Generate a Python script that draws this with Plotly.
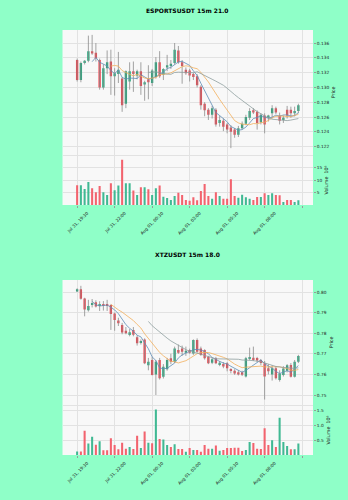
import plotly.graph_objects as go
import pandas as pd

# ---------------- data ----------------
times = pd.date_range("2023-07-31 19:30", periods=60, freq="15min")
tick_idx = [0, 10, 20, 30, 40, 50]
extra_grid_idx = [60]
tick_text = [times[i].strftime("%b %d, %H:%M") for i in tick_idx]

esp_open = [.1337, .1310, .1333, .1336, .1349, .1347, .1337, .1300, .1326, .1335,
            .1315, .1318, .1312, .1278, .1308, .1322, .1316, .1322, .1304, .1311,
            .1306, .1314, .1334, .1317, .1327, .1329, .1333, .1350, .1334, .1324,
            .1323, .1318, .1315, .1301, .1278, .1270, .1263, .1270, .1252, .1255,
            .1250, .1246, .1243, .1236, .1245, .1251, .1259, .1269, .1267, .1253,
            .1262, .1259, .1265, .1272, .1262, .1256, .1270, .1270, .1265, .1268]
esp_high = [.1339, .1335, .1337, .1370, .1371, .1360, .1339, .1331, .1350, .1351,
            .1326, .1348, .1314, .1323, .1334, .1335, .1324, .1334, .1309, .1330,
            .1325, .1341, .1349, .1326, .1344, .1337, .1360, .1356, .1337, .1327,
            .1325, .1320, .1318, .1303, .1280, .1272, .1275, .1272, .1262, .1258,
            .1252, .1249, .1245, .1248, .1254, .1263, .1272, .1272, .1269, .1265,
            .1265, .1263, .1276, .1274, .1266, .1262, .1275, .1274, .1274, .1278]
esp_low = [.1308, .1307, .1331, .1334, .1344, .1335, .1297, .1297, .1318, .1290,
           .1289, .1306, .1267, .1272, .1297, .1294, .1311, .1290, .1282, .1284,
           .1302, .1312, .1313, .1310, .1322, .1325, .1331, .1332, .1305, .1317,
           .1308, .1310, .1300, .1270, .1261, .1256, .1258, .1247, .1247, .1241,
           .1238, .1218, .1232, .1233, .1243, .1249, .1256, .1264, .1243, .1250,
           .1238, .1254, .1258, .1264, .1250, .1252, .1258, .1259, .1261, .1265]
esp_close = [.1310, .1333, .1336, .1349, .1346, .1339, .1300, .1326, .1334, .1315,
             .1319, .1324, .1276, .1322, .1322, .1318, .1322, .1302, .1307, .1307,
             .1323, .1334, .1315, .1325, .1330, .1332, .1351, .1334, .1329, .1319,
             .1316, .1314, .1303, .1276, .1269, .1263, .1272, .1250, .1256, .1247,
             .1243, .1240, .1236, .1245, .1251, .1260, .1268, .1266, .1252, .1263,
             .1250, .1262, .1272, .1266, .1255, .1259, .1262, .1265, .1268, .1276]
esp_volume_1e6 = [8.0, 8.0, 6.5, 9.3, 6.8, 5.2, 7.7, 5.2, 4.0, 8.8,
                  6.0, 7.9, 18.3, 8.8, 8.8, 5.9, 4.0, 7.2, 7.2, 6.4,
                  4.0, 6.8, 7.9, 3.3, 2.8, 2.0, 3.6, 4.9, 4.0, 2.0,
                  1.7, 3.1, 1.9, 5.7, 8.5, 3.6, 2.5, 5.2, 3.6, 2.5,
                  2.5, 10.4, 3.6, 2.9, 4.1, 3.1, 2.5, 2.0, 3.2, 3.2,
                  4.7, 4.0, 4.7, 4.0, 3.9, 1.2, 2.0, 2.0, 1.2, 1.9]

xtz_open = [.8003, .8013, .7969, .7912, .7937, .7950, .7935, .7939, .7937, .7937,
            .7896, .7862, .7840, .7812, .7791, .7816, .7780, .7752, .7770, .7645,
            .7670, .7600, .7670, .7589, .7625, .7678, .7662, .7718, .7726, .7705,
            .7718, .7702, .7767, .7726, .7718, .7686, .7657, .7678, .7646, .7650,
            .7654, .7625, .7618, .7610, .7610, .7590, .7675, .7681, .7680, .7670,
            .7654, .7630, .7600, .7630, .7573, .7597, .7618, .7646, .7589, .7662]
xtz_high = [.8018, .8030, .7972, .7962, .7966, .7960, .7955, .7956, .7962, .7940,
            .7900, .7875, .7850, .7830, .7820, .7830, .7790, .7770, .7775, .7680,
            .7685, .7670, .7680, .7650, .7680, .7700, .7735, .7745, .7740, .7735,
            .7725, .7770, .7775, .7735, .7722, .7690, .7680, .7685, .7665, .7660,
            .7660, .7630, .7625, .7620, .7618, .7685, .7730, .7735, .7685, .7675,
            .7665, .7650, .7645, .7640, .7620, .7640, .7650, .7655, .7670, .7695]
xtz_low = [.8000, .7963, .7882, .7905, .7925, .7925, .7908, .7910, .7908, .7816,
           .7812, .7835, .7795, .7795, .7785, .7785, .7740, .7745, .7650, .7620,
           .7595, .7500, .7575, .7580, .7618, .7650, .7655, .7700, .7690, .7690,
           .7700, .7695, .7705, .7690, .7672, .7650, .7650, .7650, .7640, .7630,
           .7615, .7605, .7598, .7595, .7592, .7585, .7668, .7665, .7660, .7645,
           .7478, .7600, .7570, .7575, .7565, .7590, .7610, .7585, .7585, .7655]
xtz_close = [.8013, .7967, .7915, .7932, .7945, .7930, .7939, .7935, .7934, .7893,
             .7864, .7848, .7803, .7800, .7805, .7793, .7751, .7762, .7654, .7662,
             .7597, .7662, .7581, .7637, .7670, .7662, .7726, .7705, .7710, .7715,
             .7705, .7767, .7710, .7694, .7678, .7654, .7673, .7654, .7657, .7638,
             .7630, .7618, .7605, .7600, .7598, .7678, .7680, .7670, .7668, .7655,
             .7590, .7615, .7630, .7581, .7605, .7629, .7645, .7589, .7662, .7689]
xtz_volume_1e6 = [0.12, 0.12, 0.81, 0.38, 0.61, 0.34, 0.46, 0.16, 0.16, 0.56,
                  0.33, 0.19, 0.41, 0.21, 0.27, 0.20, 0.64, 0.23, 0.78, 0.41,
                  0.39, 1.52, 0.53, 0.52, 0.33, 0.27, 0.36, 0.20, 0.20, 0.11,
                  0.23, 0.17, 0.17, 0.11, 0.33, 0.21, 0.21, 0.32, 0.14, 0.17,
                  0.23, 0.23, 0.24, 0.24, 0.13, 0.17, 0.43, 0.40, 0.21, 0.20,
                  0.89, 0.33, 0.49, 0.27, 1.24, 0.43, 0.30, 0.19, 0.19, 0.38]

ma_windows = [5, 10, 20]

# ---------------- style ----------------
FONT = "DejaVu Sans"
BG = "#8FFFC8"
PLOT_BG = "#F8F8F8"
GRID = "#E2E2E2"
UP, DOWN = "#1FA97C", "#F2434E"
VUP, VDOWN = "#40B993", "#F2636E"
WICK = "#8C8C8C"
MA_COLORS = ["#5E8DB6", "#F3AE5A", "#8E9E9E"]

fig = go.Figure()


def add_chart(o, h, l, c, v, n, prange):
    xa, yp = ("x" if n == 1 else f"x{n}"), ("y" if n == 1 else f"y{n}")
    xv, yv = f"x{n + 1}", f"y{n + 1}"
    idx = list(range(len(o)))
    span = prange[1] - prange[0]
    wx, wy = [], []
    for i in idx:
        wx += [i, i, None]
        wy += [l[i], h[i], None]
    fig.add_trace(go.Scatter(x=wx, y=wy, mode="lines", line=dict(color=WICK, width=0.8),
                             xaxis=xa, yaxis=yp, hoverinfo="skip"))
    up = [c[i] >= o[i] for i in idx]
    base = [min(o[i], c[i]) for i in idx]
    hgt = [max(abs(c[i] - o[i]), span * 0.8 / 125) for i in idx]
    fig.add_trace(go.Bar(x=idx, y=hgt, base=base, width=0.62,
                         marker=dict(color=[UP if u else DOWN for u in up], line=dict(width=0)),
                         xaxis=xa, yaxis=yp))
    cs = pd.Series(c)
    for w, col in zip(ma_windows, MA_COLORS):
        fig.add_trace(go.Scatter(x=idx, y=cs.rolling(w).mean(), mode="lines",
                                 line=dict(color=col, width=0.8), xaxis=xa, yaxis=yp))
    fig.add_trace(go.Bar(x=idx, y=v, width=0.55,
                         marker=dict(color=[VUP if u else VDOWN for u in up], line=dict(width=0)),
                         xaxis=xv, yaxis=yv))


add_chart(esp_open, esp_high, esp_low, esp_close, esp_volume_1e6, 1, [0.12087, 0.13776])
add_chart(xtz_open, xtz_high, xtz_low, xtz_close, xtz_volume_1e6, 3, [0.74515, 0.80583])

XD = [62.5 / 348, 313 / 348]
XR = [-3.9, 62.9]


def ydom(top, bottom):
    return [1 - bottom / 500, 1 - top / 500]


tickfont = dict(family=FONT, size=4.3, color="#222")
common_x = dict(domain=XD, range=XR, tickvals=tick_idx, showgrid=True, gridcolor=GRID,
                gridwidth=0.8, zeroline=False, fixedrange=True)
common_y = dict(side="right", showgrid=True, gridcolor=GRID, gridwidth=0.8, zeroline=False,
                ticks="outside", ticklen=2, tickwidth=0.6, tickcolor="#999",
                tickfont=tickfont, showline=False)

lay = dict(
    width=348, height=500, margin=dict(l=0, r=0, t=0, b=0),
    paper_bgcolor=BG, plot_bgcolor=PLOT_BG, showlegend=False, barmode="overlay",
    font=dict(family=FONT, size=5, color="#222"),
)
for n, (ptop, pbot, vbot), prange, vrange, pticks, pfmt, vticks, vfmt in [
    (1, (30, 155, 205), [0.12087, 0.13776], [0, 20.2],
     [0.122, 0.124, 0.126, 0.128, 0.130, 0.132, 0.134, 0.136], ".3f", [5, 10, 15], "d"),
    (3, (280, 405, 455), [0.74515, 0.80583], [0, 1.667],
     [0.75, 0.76, 0.77, 0.78, 0.79, 0.80], ".2f", [0.5, 1.0, 1.5], ".1f"),
]:
    kx = "xaxis" if n == 1 else f"xaxis{n}"
    ky = "yaxis" if n == 1 else f"yaxis{n}"
    kxv, kyv = f"xaxis{n + 1}", f"yaxis{n + 1}"
    xa = "x" if n == 1 else f"x{n}"
    ya = "y" if n == 1 else f"y{n}"
    lay[kx] = dict(common_x, anchor=ya, showticklabels=False, ticks="",
                   showline=True, linecolor=GRID, linewidth=0.8,
                   minor=dict(tickvals=extra_grid_idx, showgrid=True, gridcolor=GRID,
                              gridwidth=0.8))
    lay[ky] = dict(common_y, domain=ydom(ptop, pbot), anchor=xa, range=prange,
                   tickvals=pticks, tickformat=pfmt,
                   title=dict(text="Price", font=dict(family=FONT, size=4.8), standoff=3))
    lay[kxv] = dict(common_x, anchor=f"y{n + 1}", ticktext=tick_text, tickangle=-45,
                    tickfont=tickfont, ticks="outside", ticklen=2, tickwidth=0.6,
                    tickcolor="#999", ticklabelshift=10, ticklabelstandoff=1,
                    minor=dict(tickvals=extra_grid_idx, showgrid=True, gridcolor=GRID,
                               gridwidth=0.8, ticks="outside", ticklen=2, tickwidth=0.6,
                               tickcolor="#999"))
    lay[kyv] = dict(common_y, domain=ydom(pbot, vbot), anchor=f"x{n + 1}", range=vrange,
                    tickvals=vticks, tickformat=vfmt,
                    title=dict(text="Volume  10\u2076", font=dict(family=FONT, size=4.8),
                               standoff=3))

fig.update_layout(**lay)
fig.add_annotation(text="<b>ESPORTSUSDT 15m 21.0</b>", x=187.5 / 348, y=1 - 4.8 / 500,
                   xref="paper", yref="paper", showarrow=False,
                   font=dict(family=FONT, size=6, color="#000"))
fig.add_annotation(text="<b>XTZUSDT 15m 18.0</b>", x=187.5 / 348, y=1 - 254.5 / 500,
                   xref="paper", yref="paper", showarrow=False,
                   font=dict(family=FONT, size=6, color="#000"))

fig.write_html("out.html")
